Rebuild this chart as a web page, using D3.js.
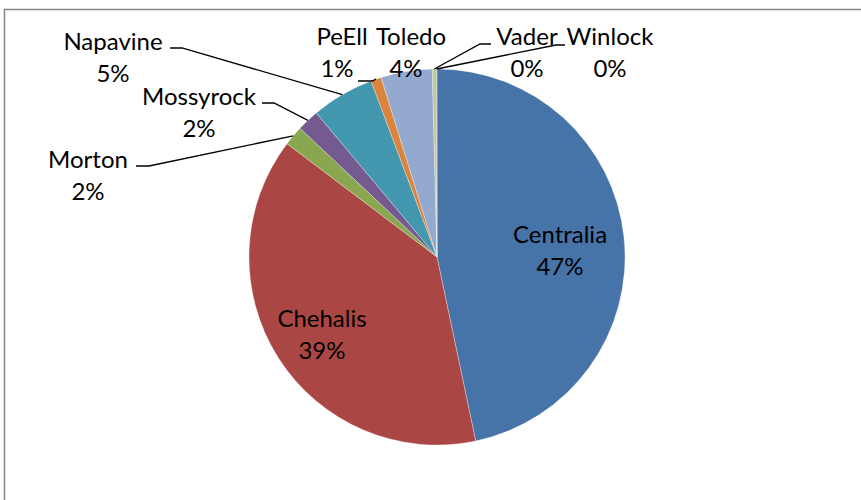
<!DOCTYPE html>
<html>
<head>
<meta charset="utf-8">
<script src="https://cdn.jsdelivr.net/npm/d3@7"></script>
<style>
  body { margin: 0; background: #fff; }
  svg text { font-family: Lato, "Open Sans", sans-serif; fill: #000; }
</style>
</head>
<body>
<div id="chart"></div>
<script>
// data (share of total, in %)
var towns = ["Centralia", "Chehalis", "Morton", "Mossyrock", "Napavine", "PeEll", "Toledo", "Vader", "Winlock"];
var shares = [46.7, 38.6, 1.7, 1.9, 5.4, 0.9, 4.4, 0.35, 0.05];
var sliceColors = ["#4673A8", "#AA4744", "#8BA650", "#745A8F", "#4397AE", "#DA843E", "#93A9D0", "#B9CD96", "#A47D7C"];

// where each label sits (centre x, first baseline y) and whether it gets a leader line
var labelLayout = {
  Centralia: {x: 560, y: 243, leader: false},
  Chehalis:  {x: 322, y: 327, leader: false},
  Morton:    {x: 88,  y: 168, leader: true, elbow: [[136, 166], [149, 166]]},
  Mossyrock: {x: 199, y: 105, leader: true, elbow: [[262, 103], [274, 103]]},
  Napavine:  {x: 113, y: 50,  leader: true, elbow: [[170, 48], [182, 48]]},
  PeEll:     {x: 342, y: 45,  pctX: 337, leader: true, elbow: [[358, 81], [372, 81]]},
  Toledo:    {x: 411, y: 45,  pctX: 406, leader: false},
  Vader:     {x: 527, y: 45,  leader: true, elbow: [[491, 44], [480, 44]]},
  Winlock:   {x: 610, y: 45,  leader: true, elbow: [[565, 45], [556, 45]]}
};

var width = 861, height = 500;
var cx = 437, cy = 257, radius = 188;

var svg = d3.select("#chart").append("svg")
    .attr("width", width)
    .attr("height", height);

// chart area frame (runs off the right and bottom edge)
svg.append("rect")
    .attr("x", 4.5).attr("y", 9.5)
    .attr("width", width + 10).attr("height", height + 10)
    .attr("fill", "none")
    .attr("stroke", "#868686")
    .attr("stroke-width", 1.5);

var table = towns.map(function(t, i) { return {name: t, value: shares[i], color: sliceColors[i]}; });
var total = d3.sum(shares);
var fmt = d3.format(".0%");

var pie = d3.pie().sort(null).value(function(d) { return d.value; });
var arc = d3.arc().innerRadius(0).outerRadius(radius);

var g = svg.append("g").attr("transform", "translate(" + cx + "," + cy + ")");
var arcs = pie(table);

g.selectAll("path.slice")
    .data(arcs)
  .enter().append("path")
    .attr("class", "slice")
    .attr("d", arc)
    .attr("fill", function(d) { return d.data.color; })
    .attr("stroke", "rgba(255,255,255,0.5)")
    .attr("stroke-width", 0.6);

// leader lines: from the label elbow to the middle of the slice's rim
arcs.forEach(function(d) {
  var lay = labelLayout[d.data.name];
  if (!lay.leader) return;
  var mid = (d.startAngle + d.endAngle) / 2;
  var px = cx + radius * Math.sin(mid), py = cy - radius * Math.cos(mid);
  var pts = lay.elbow.concat([[px, py]]);
  svg.append("path")
      .attr("d", d3.line()(pts))
      .attr("fill", "none")
      .attr("stroke", "#000")
      .attr("stroke-width", 1.3);
});

// labels
arcs.forEach(function(d) {
  var lay = labelLayout[d.data.name];
  var t = svg.append("text").attr("text-anchor", "middle").style("font-size", "24px");
  t.append("tspan").attr("x", lay.x).attr("y", lay.y).text(d.data.name);
  t.append("tspan").attr("x", lay.pctX || lay.x).attr("y", lay.y + 32).text(fmt(d.data.value / total));
});
</script>
</body>
</html>
